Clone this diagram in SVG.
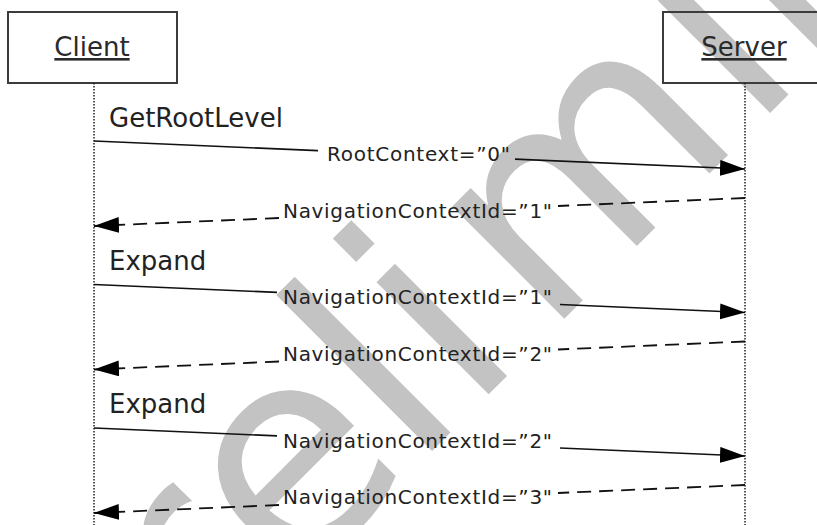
<svg xmlns="http://www.w3.org/2000/svg" width="817" height="525" viewBox="0 0 817 525">
<style>
.wm{font-family:"DejaVu Sans",Verdana,sans-serif;font-size:290px;fill:#c3c3c3}
.box{fill:none;stroke:#3c3c3c;stroke-width:2}
.actor{font-family:"DejaVu Sans",Verdana,sans-serif;font-size:26px;fill:#2a2a2a;text-anchor:middle;text-decoration:underline}
.life{stroke:#222;stroke-width:1.5;stroke-dasharray:1.5 1.5;fill:none}
.op{font-family:"DejaVu Sans",Verdana,sans-serif;font-size:26px;fill:#222}
.lbl{font-family:"DejaVu Sans",Verdana,sans-serif;font-size:20px;fill:#222}
.call{stroke:#111;stroke-width:1.6;fill:none}
.ret{stroke:#111;stroke-width:1.8;fill:none;stroke-dasharray:14 8}
</style>
<defs>
<marker id="ah" markerUnits="userSpaceOnUse" markerWidth="27" markerHeight="18" refX="25" refY="8" orient="auto">
<path d="M0,0 L25,8 L0,16 Z" fill="#000"/>
</marker>
</defs>
<g id="watermark">
<text class="wm" transform="translate(79,804) rotate(-45)" x="0 175 299 472 552 660 950 1030 1214 1388 1512">Preliminary</text>
</g>
<g id="client">
<rect class="box" x="8" y="12" width="169" height="71"/>
<text class="actor" x="92" y="56">Client</text>
<line class="life" x1="94" y1="83" x2="94" y2="525"/>
</g>
<g id="server">
<rect class="box" x="663" y="12" width="170" height="71"/>
<text class="actor" x="744" y="56">Server</text>
<line class="life" x1="745" y1="83" x2="745" y2="525"/>
</g>
<g id="connectors">
<text class="op" x="109" y="127">GetRootLevel</text>
<line class="call" x1="94" y1="141" x2="318" y2="150.6"/>
<line class="call" x1="515" y1="159.1" x2="745" y2="169" marker-end="url(#ah)"/>
<text class="lbl" x="327" y="161" textLength="183" lengthAdjust="spacing">RootContext=”0"</text>
<line class="ret" x1="745" y1="198" x2="558" y2="206"/>
<line class="ret" x1="279" y1="218" x2="94" y2="226" marker-end="url(#ah)"/>
<text class="lbl" x="283" y="218" textLength="269" lengthAdjust="spacing">NavigationContextId=”1"</text>

<text class="op" x="109" y="270">Expand</text>
<line class="call" x1="94" y1="284.5" x2="277" y2="292.4"/>
<line class="call" x1="560" y1="304.5" x2="745" y2="312.5" marker-end="url(#ah)"/>
<text class="lbl" x="283" y="304" textLength="269" lengthAdjust="spacing">NavigationContextId=”1"</text>
<line class="ret" x1="745" y1="341.5" x2="558" y2="349.5"/>
<line class="ret" x1="279" y1="361.5" x2="94" y2="369.5" marker-end="url(#ah)"/>
<text class="lbl" x="283" y="361" textLength="269" lengthAdjust="spacing">NavigationContextId=”2"</text>

<text class="op" x="109" y="413">Expand</text>
<line class="call" x1="94" y1="428" x2="277" y2="435.9"/>
<line class="call" x1="560" y1="448" x2="745" y2="456" marker-end="url(#ah)"/>
<text class="lbl" x="283" y="447.5" textLength="269" lengthAdjust="spacing">NavigationContextId=”2"</text>
<line class="ret" x1="745" y1="485" x2="558" y2="493"/>
<line class="ret" x1="279" y1="505" x2="94" y2="513" marker-end="url(#ah)"/>
<text class="lbl" x="283" y="504" textLength="269" lengthAdjust="spacing">NavigationContextId=”3"</text>
</g>
</svg>
